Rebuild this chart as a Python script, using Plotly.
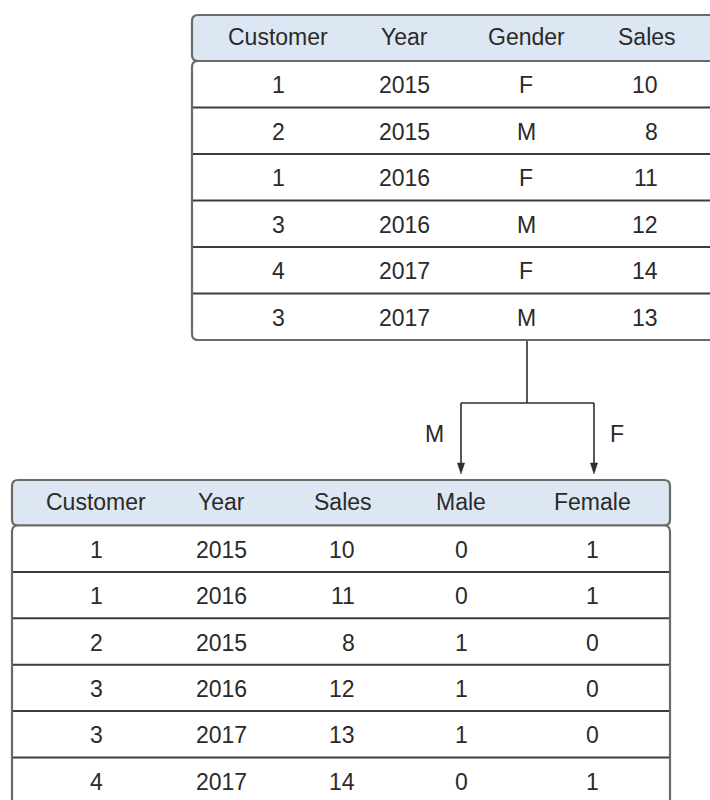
import plotly.graph_objects as go

# ---- data ----
top_columns = ["Customer", "Year", "Gender", "Sales"]
top_customer = [1, 2, 1, 3, 4, 3]
top_year = [2015, 2015, 2016, 2016, 2017, 2017]
top_gender = ["F", "M", "F", "M", "F", "M"]
top_sales = [10, 8, 11, 12, 14, 13]

bottom_columns = ["Customer", "Year", "Sales", "Male", "Female"]
bottom_customer = [1, 1, 2, 3, 3, 4]
bottom_year = [2015, 2016, 2015, 2016, 2017, 2017]
bottom_sales = [10, 11, 8, 12, 13, 14]
bottom_male = [0, 0, 1, 1, 1, 0]
bottom_female = [1, 1, 0, 0, 0, 1]

split_labels = ["M", "F"]

# ---- styling / layout ----
W, H = 710, 800
FONT = "Liberation Sans, Arial, sans-serif"
TXT = "#2a2a2a"
HEAD_FILL = "#dde7f3"
BORDER = "#6a6a6a"
SEP = "#3c3c3c"
FS = 23

shapes = []
annotations = []


def rrect(x0, y0, x1, y1, r):
    return (f"M {x0+r},{y0} L {x1-r},{y0} Q {x1},{y0} {x1},{y0+r} "
            f"L {x1},{y1-r} Q {x1},{y1} {x1-r},{y1} L {x0+r},{y1} "
            f"Q {x0},{y1} {x0},{y1-r} L {x0},{y0+r} Q {x0},{y0} {x0+r},{y0} Z")


def text(x, y, s, anchor="center"):
    annotations.append(dict(x=x, y=y, xref="x", yref="y", text=str(s),
                            showarrow=False, xanchor=anchor, yanchor="middle",
                            font=dict(family=FONT, size=FS, color=TXT)))


def draw_table(x0, x1, head_top, head_bot, row_h, nrows, body_bottom,
               columns, col_x, rows, right_cols):
    shapes.append(dict(type="path", path=rrect(x0, head_top, x1, head_bot, 6),
                       fillcolor=HEAD_FILL, line=dict(color=BORDER, width=2.2),
                       layer="below"))
    shapes.append(dict(type="path", path=rrect(x0, head_bot, x1, body_bottom, 6),
                       fillcolor="white", line=dict(color=BORDER, width=2.2),
                       layer="below"))
    for k in range(1, nrows):
        y = head_bot + row_h * k
        shapes.append(dict(type="line", x0=x0 + 1, x1=min(x1, W + 20) - 1,
                           y0=y, y1=y,
                           line=dict(color=SEP, width=2), layer="below"))
    for c, name in enumerate(columns):
        text(col_x[c], (head_top + head_bot) / 2 - 1, name)
    for r, row in enumerate(rows):
        yc = head_bot + row_h * (r + 0.5) + 1
        for c, v in enumerate(row):
            if c in right_cols:
                text(right_cols[c], yc, v, anchor="right")
            else:
                text(col_x[c], yc, v)


top_rows = list(zip(top_customer, top_year, top_gender, top_sales))
draw_table(192, 740, 15, 61, 46.5, 6, 340, top_columns,
           [278, 404, 526, 647], top_rows, {3: 660})

bottom_rows = list(zip(bottom_customer, bottom_year, bottom_sales,
                       bottom_male, bottom_female))
draw_table(12, 670, 480, 525.5, 46.4, 7, 860, bottom_columns,
           [96, 221, 343, 461, 592], bottom_rows, {2: 357})

# ---- split connector ----
LC = "#2e2e2e"
shapes.append(dict(type="line", x0=527, x1=527, y0=341, y1=403,
                   line=dict(color=LC, width=1.6)))
shapes.append(dict(type="line", x0=461, x1=594, y0=403, y1=403,
                   line=dict(color=LC, width=1.6)))
for ax in (461, 594):
    shapes.append(dict(type="line", x0=ax, x1=ax, y0=403, y1=464,
                       line=dict(color=LC, width=1.6)))
    shapes.append(dict(type="path",
                       path=f"M {ax-3.6},{463} L {ax+3.6},{463} L {ax},{474} Z",
                       fillcolor=LC, line=dict(color=LC, width=0.5)))

text(434, 434, split_labels[0])
text(617, 434, split_labels[1])

fig = go.Figure()
fig.add_trace(go.Scatter(x=[0, W], y=[0, H], mode="markers",
                         marker=dict(opacity=0), hoverinfo="skip",
                         showlegend=False))
fig.update_layout(
    width=W, height=H,
    margin=dict(l=0, r=0, t=0, b=0),
    paper_bgcolor="white", plot_bgcolor="white",
    xaxis=dict(range=[0, W], visible=False, fixedrange=True),
    yaxis=dict(range=[H, 0], visible=False, fixedrange=True),
    shapes=shapes, annotations=annotations,
    showlegend=False,
    hovermode=False,
)
fig.write_html(
    "out.html",
    config={"displayModeBar": False, "staticPlot": True},
    post_script="document.body.style.margin='0';"
                "document.body.style.overflow='hidden';",
)
